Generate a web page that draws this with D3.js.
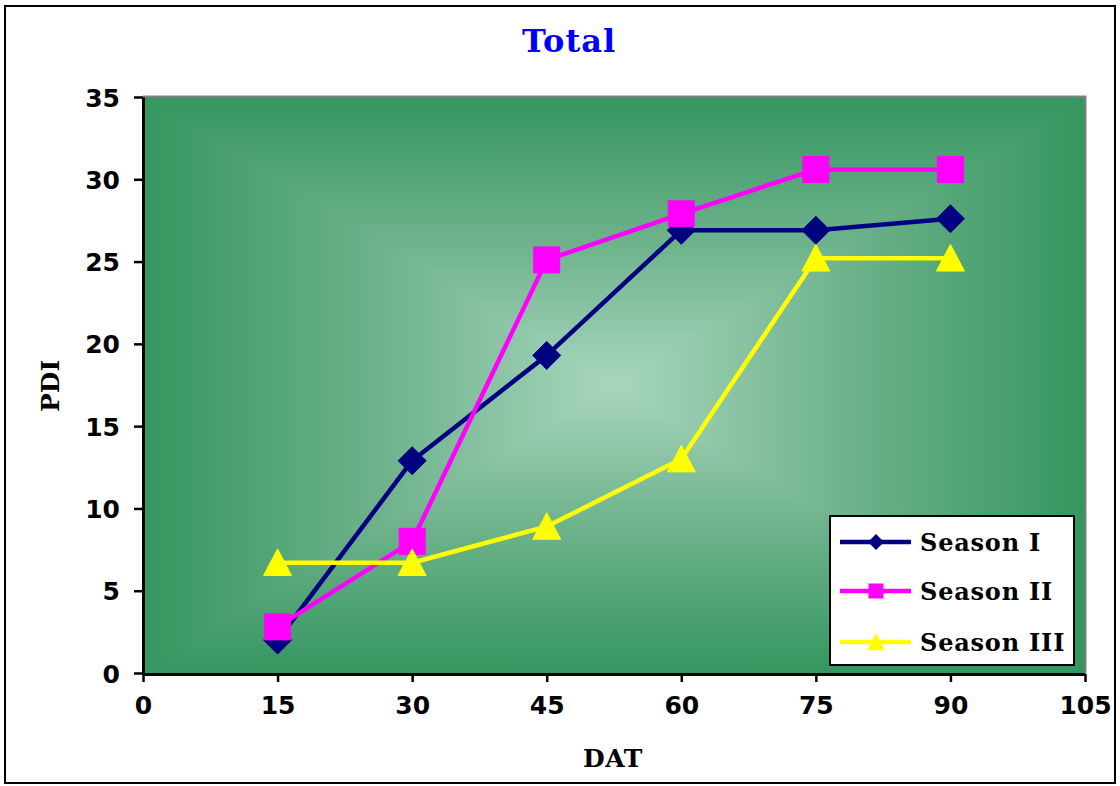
<!DOCTYPE html>
<html>
<head>
<meta charset="utf-8">
<script src="https://cdn.jsdelivr.net/npm/d3@7"></script>
<style>
  html, body { margin: 0; padding: 0; background: #fff; }
  svg { display: block; }
</style>
</head>
<body>
<svg id="chart" width="1120" height="786"></svg>
<script>
// Days after transplanting and disease index per season
const dat = [15, 30, 45, 60, 75, 90];
const seasonI   = [2.0, 12.9, 19.3, 26.9, 26.9, 27.6];
const seasonII  = [2.8, 8.0, 25.1, 27.9, 30.6, 30.6];
const seasonIII = [6.7, 6.7, 8.9, 13.0, 25.2, 25.2];
const seriesNames = ["Season I", "Season II", "Season III"];
const xTicks = [0, 15, 30, 45, 60, 75, 90, 105];
const yTicks = [0, 5, 10, 15, 20, 25, 30, 35];

const series = [
  { name: seriesNames[0], values: seasonI,   color: "#000080", shape: "diamond" },
  { name: seriesNames[1], values: seasonII,  color: "#ff00ff", shape: "square" },
  { name: seriesNames[2], values: seasonIII, color: "#ffff00", shape: "triangle" }
];

const svg = d3.select("#chart");
const plot = { x0: 143, x1: 1085, y0: 97, y1: 673 };

const x = d3.scaleLinear().domain([0, 105]).range([plot.x0, plot.x1]);
const y = d3.scaleLinear().domain([0, 35]).range([plot.y1, plot.y0]);

// Outer chart frame
svg.append("rect")
  .attr("x", 5).attr("y", 6).attr("width", 1110).attr("height", 777)
  .attr("fill", "#fff").attr("stroke", "#000").attr("stroke-width", 2);

// Plot area: rectangular "from centre" gradient built from four triangles
const defs = svg.append("defs");
const cx = (plot.x0 + plot.x1) / 2, cy = (plot.y0 + plot.y1) / 2;
const edgeCol = "#35965f", midCol = "#6db28b", centerCol = "#a8d6be";

// soft base under the triangles so their shared edges blend in
const rg = defs.append("radialGradient").attr("id", "gBase");
rg.append("stop").attr("offset", 0).attr("stop-color", centerCol);
rg.append("stop").attr("offset", 0.5).attr("stop-color", midCol);
rg.append("stop").attr("offset", 1).attr("stop-color", edgeCol);
svg.append("rect")
  .attr("x", plot.x0).attr("y", plot.y0)
  .attr("width", plot.x1 - plot.x0).attr("height", plot.y1 - plot.y0)
  .attr("fill", "url(#gBase)");

const sides = [
  { id: "gTop",    from: [cx, plot.y0], pts: [[plot.x0, plot.y0], [plot.x1, plot.y0], [cx, cy]] },
  { id: "gBottom", from: [cx, plot.y1], pts: [[plot.x0, plot.y1], [plot.x1, plot.y1], [cx, cy]] },
  { id: "gLeft",   from: [plot.x0, cy], pts: [[plot.x0, plot.y0], [plot.x0, plot.y1], [cx, cy]] },
  { id: "gRight",  from: [plot.x1, cy], pts: [[plot.x1, plot.y0], [plot.x1, plot.y1], [cx, cy]] }
];
sides.forEach(s => {
  const g = defs.append("linearGradient")
    .attr("id", s.id).attr("gradientUnits", "userSpaceOnUse")
    .attr("x1", s.from[0]).attr("y1", s.from[1]).attr("x2", cx).attr("y2", cy);
  g.append("stop").attr("offset", 0).attr("stop-color", edgeCol);
  g.append("stop").attr("offset", 0.5).attr("stop-color", midCol);
  g.append("stop").attr("offset", 1).attr("stop-color", centerCol);
  svg.append("polygon")
    .attr("points", s.pts.map(p => p.join(",")).join(" "))
    .attr("fill", `url(#${s.id})`)
    .attr("stroke", `url(#${s.id})`).attr("stroke-width", 1);
});

// Plot area border (top and right in grey)
svg.append("path")
  .attr("d", `M${plot.x0},${plot.y0 - 0.5}H${plot.x1 + 0.5}V${plot.y1}`)
  .attr("fill", "none").attr("stroke", "#808080").attr("stroke-width", 2);

// Axes
const tickFont = "'DejaVu Sans', Verdana, sans-serif";
const xAxis = svg.append("g")
  .attr("transform", `translate(0,${plot.y1 + 1})`)
  .call(d3.axisBottom(x).tickValues(xTicks).tickSize(8).tickPadding(14).tickSizeOuter(0));
const yAxis = svg.append("g")
  .attr("transform", `translate(${plot.x0},0)`)
  .call(d3.axisLeft(y).tickValues(yTicks).tickSize(9).tickPadding(14).tickSizeOuter(0));
[xAxis, yAxis].forEach(a => {
  a.select(".domain").attr("stroke", "#000").attr("stroke-width", 3);
  a.selectAll(".tick line").attr("stroke", "#000").attr("stroke-width", 2.5);
  a.selectAll(".tick text")
    .attr("fill", "#000")
    .style("font-family", tickFont).style("font-weight", "bold").style("font-size", "25px");
});
yAxis.selectAll(".tick text").attr("dy", "0.36em");

// Titles
const serif = "'DejaVu Serif', 'Liberation Serif', serif";
svg.append("text")
  .attr("x", 569).attr("y", 52)
  .attr("text-anchor", "middle")
  .style("font-family", serif).style("font-weight", "bold").style("font-size", "32px")
  .style("letter-spacing", "1px")
  .attr("fill", "#0000ff").text("Total");
svg.append("text")
  .attr("x", 613).attr("y", 767)
  .attr("text-anchor", "middle")
  .style("font-family", serif).style("font-weight", "bold").style("font-size", "25px")
  .style("letter-spacing", "0.5px")
  .attr("fill", "#000").text("DAT");
svg.append("text")
  .attr("transform", "translate(59,386) rotate(-90)")
  .attr("text-anchor", "middle")
  .style("font-family", serif).style("font-weight", "bold").style("font-size", "25px")
  .attr("fill", "#000").text("PDI");

// Marker shapes
function markerPath(shape, s) {
  if (shape === "diamond") return `M0,${-s}L${s},0L0,${s}L${-s},0Z`;
  if (shape === "square") return `M${-s},${-s}H${s}V${s}H${-s}Z`;
  // triangle: s = half width
  const h = s * 1.9;
  return `M0,${-h * 0.52}L${s},${h * 0.48}L${-s},${h * 0.48}Z`;
}
const markerSize = { diamond: 14, square: 13, triangle: 14 };

// Series lines and markers
const line = d3.line().x((d, i) => x(dat[i])).y(d => y(d));
series.forEach(s => {
  const g = svg.append("g");
  g.append("path")
    .datum(s.values)
    .attr("d", line)
    .attr("fill", "none").attr("stroke", s.color)
    .attr("stroke-width", 4.5).attr("stroke-linejoin", "round");
  g.selectAll("path.mk")
    .data(s.values)
    .join("path").attr("class", "mk")
    .attr("transform", (d, i) => `translate(${x(dat[i])},${y(d)})`)
    .attr("d", markerPath(s.shape, markerSize[s.shape]))
    .attr("fill", s.color).attr("stroke", s.color).attr("stroke-width", 1)
    .attr("stroke-linejoin", "round");
});

// Legend
const legend = svg.append("g");
legend.append("rect")
  .attr("x", 830).attr("y", 516).attr("width", 244).attr("height", 149)
  .attr("fill", "#fff").attr("stroke", "#000").attr("stroke-width", 2);
const legendRows = [542, 591, 642];
const legendSize = { diamond: 8, square: 7.5, triangle: 9 };
series.forEach((s, i) => {
  const ly = legendRows[i];
  legend.append("line")
    .attr("x1", 840).attr("x2", 911).attr("y1", ly).attr("y2", ly)
    .attr("stroke", s.color).attr("stroke-width", 4.5);
  legend.append("path")
    .attr("transform", `translate(876,${ly})`)
    .attr("d", markerPath(s.shape, legendSize[s.shape]))
    .attr("fill", s.color);
  legend.append("text")
    .attr("x", 920).attr("y", ly + 9)
    .style("font-family", serif).style("font-weight", "bold").style("font-size", "24px")
    .style("letter-spacing", "0.8px")
    .attr("fill", "#000").text(s.name);
});
</script>
</body>
</html>
